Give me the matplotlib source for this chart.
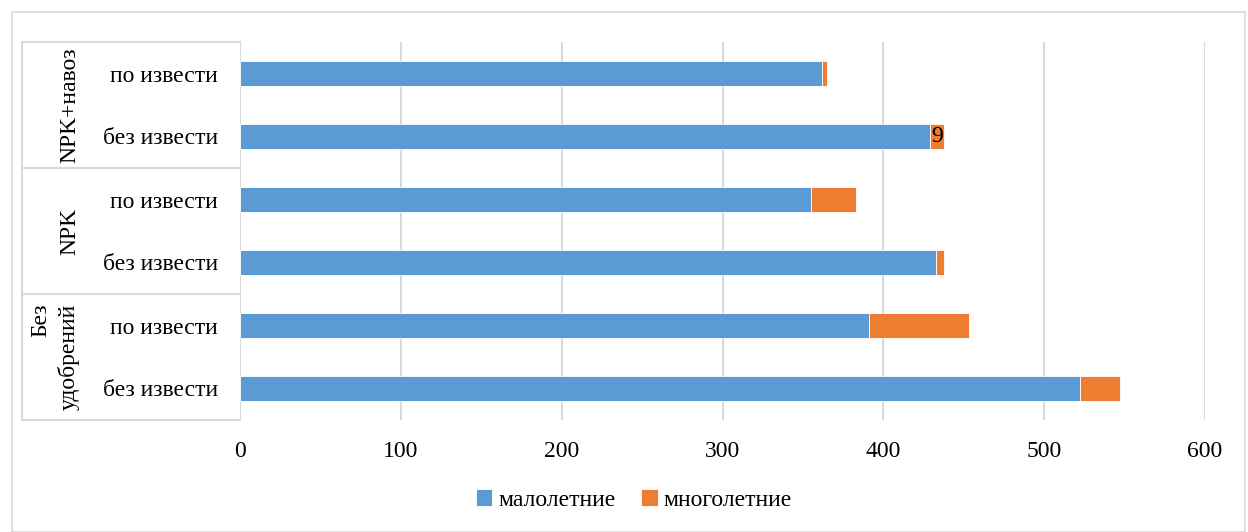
import numpy as np
import matplotlib.pyplot as plt
import matplotlib.transforms as mtransforms
from matplotlib.patches import Rectangle

plt.rcParams['font.family'] = ['Liberation Serif', 'DejaVu Serif']

# категории снизу вверх
rows = ['без извести', 'по извести', 'без извести', 'по извести', 'без извести', 'по извести']
groups = ['Без\nудобрений', 'NPK', 'NPK+навоз']
malo = [522, 391, 433, 355, 429, 362]
mnogo = [25, 62, 5, 28, 9, 3]
labelled = [False, False, False, False, True, False]

blue = '#5b9bd5'
orange = '#ed7d31'
grid_c = '#d9d9d9'
fs = 17

fig = plt.figure(figsize=(12.48, 5.32), dpi=100)
fig.patches.append(Rectangle((12 / 1248, 0), 1233 / 1248, 520 / 532, transform=fig.transFigure,
                             fill=False, edgecolor=grid_c, linewidth=1.2))
ax = fig.add_axes([240 / 1248, 112 / 532, 965 / 1248, 378 / 532])

y = np.arange(len(rows))
ax.barh(y, malo, height=0.4, color=blue, edgecolor='white', linewidth=0.6, label='малолетние', zorder=3)
bars = ax.barh(y, mnogo, left=malo, height=0.4, color=orange, edgecolor='white', linewidth=0.6,
               label='многолетние', zorder=3)
for b, v, show in zip(bars, mnogo, labelled):
    if show:
        ax.text(b.get_x() + b.get_width() / 2, b.get_y() + b.get_height() / 2, str(v),
                ha='center', va='center', fontsize=fs, color='black', zorder=4)

ax.set_xlim(0, 600)
ax.set_ylim(-0.5, len(rows) - 0.5)
ax.set_xticks(np.arange(0, 601, 100))
ax.set_yticks(y)
ax.set_yticklabels(rows)
ax.tick_params(axis='both', length=0, labelsize=fs, colors='black')
ax.tick_params(axis='y', pad=16)
ax.tick_params(axis='x', pad=15)
ax.grid(axis='x', color=grid_c, linewidth=1.5, zorder=0)
for s in ax.spines.values():
    s.set_visible(False)

# рамка групп слева
tr = mtransforms.blended_transform_factory(ax.transAxes, ax.transData)
x0 = -218 / 965
for yy in [-0.5, 1.5, 3.5, 5.5]:
    ax.plot([x0, 0], [yy, yy], transform=tr, color=grid_c, linewidth=1.5, clip_on=False)
ax.plot([x0, x0], [-0.5, 5.5], transform=tr, color=grid_c, linewidth=1.5, clip_on=False)
for i, g in enumerate(groups):
    ax.text(-160 / 965, 2 * i + 0.5, g, transform=tr, rotation=90, ha='right', va='center',
            fontsize=fs, linespacing=1.4)

fig.legend(loc='lower center', bbox_to_anchor=(0.508, 0.0), ncol=2, frameon=False, fontsize=fs,
           handlelength=0.7, handleheight=0.7, handletextpad=0.25, columnspacing=1.1)

fig.savefig('out.png', dpi=100)
